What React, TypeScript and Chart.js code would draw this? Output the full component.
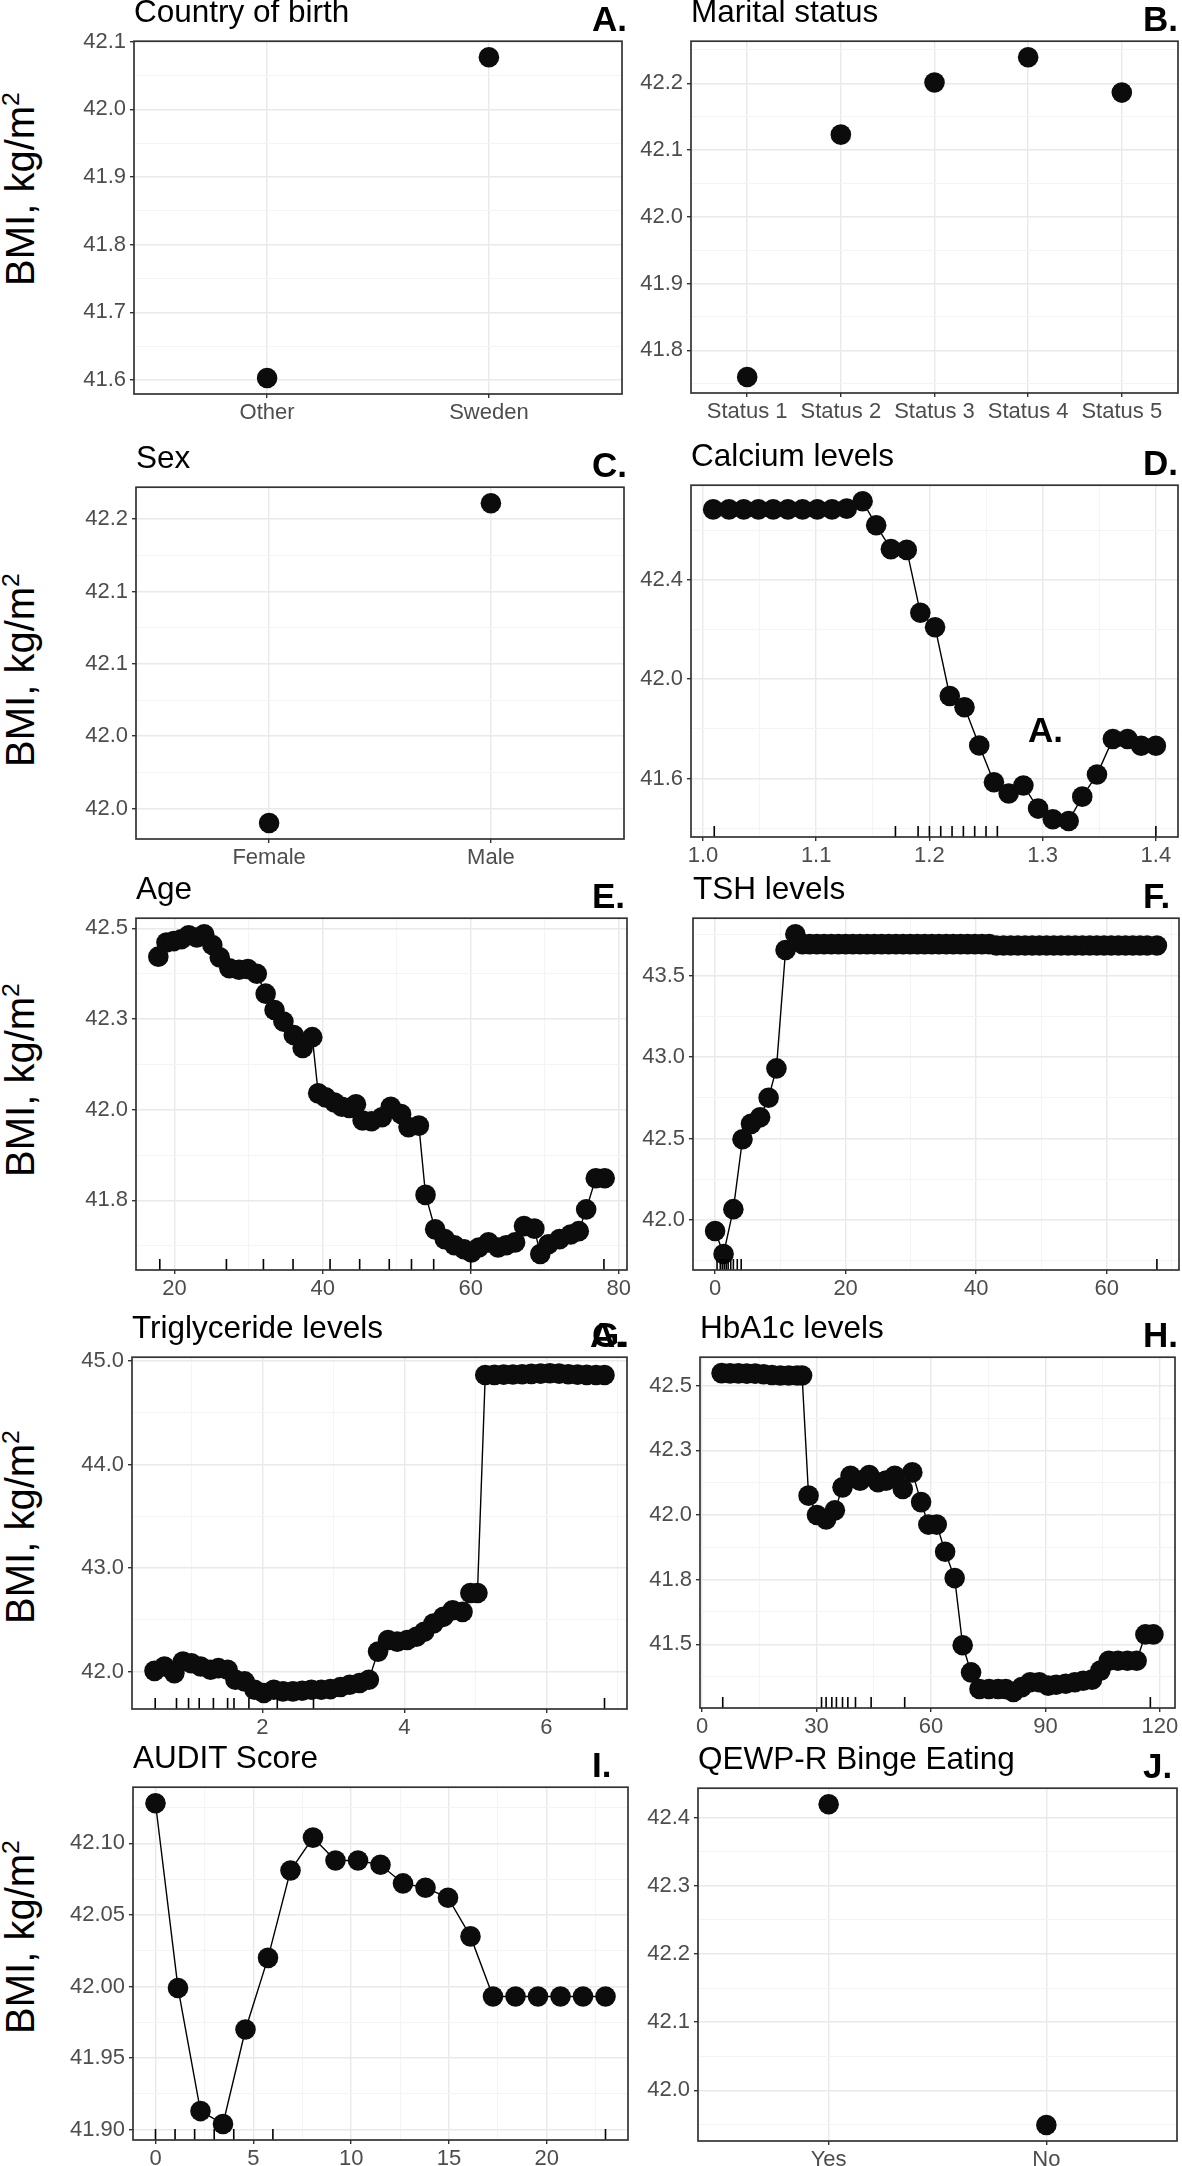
import React, { useEffect, useRef } from "react";
import { Chart, registerables } from "chart.js";

Chart.register(...registerables);

const FONT = "'Liberation Sans', Arial, Helvetica, sans-serif";

// ---------------- A. Country of birth ----------------
const countryCategories = ["Other", "Sweden"];
const countryBmi = [41.603, 42.077];
const countryYTicks = [41.6, 41.7, 41.8, 41.9, 42.0, 42.1];
const countryYLabels = ["41.6", "41.7", "41.8", "41.9", "42.0", "42.1"];
const countryYMinor = [41.65, 41.75, 41.85, 41.95, 42.05];

// ---------------- B. Marital status ----------------
const maritalCategories = ["Status 1", "Status 2", "Status 3", "Status 4", "Status 5"];
const maritalBmi = [41.76, 42.123, 42.201, 42.239, 42.186];
const maritalYTicks = [41.8, 41.9, 42.0, 42.1, 42.2];
const maritalYLabels = ["41.8", "41.9", "42.0", "42.1", "42.2"];
const maritalYMinor = [41.75, 41.85, 41.95, 42.05, 42.15, 42.25];

// ---------------- C. Sex ----------------
const sexCategories = ["Female", "Male"];
const sexBmi = [41.99, 42.211];
const sexYTicks = [42.0, 42.05, 42.1, 42.15, 42.2];
const sexYLabels = ["42.0", "42.0", "42.1", "42.1", "42.2"];
const sexYMinor = [42.025, 42.075, 42.125, 42.175];

// ---------------- D. Calcium levels ----------------
const calciumLevel = [1.009, 1.023, 1.036, 1.049, 1.062, 1.075, 1.088, 1.101, 1.114, 1.127, 1.141, 1.153, 1.166, 1.18, 1.192, 1.205, 1.218, 1.231, 1.244, 1.257, 1.27, 1.283, 1.296, 1.309, 1.323, 1.335, 1.348, 1.362, 1.375, 1.387, 1.4];
const calciumBmi = [42.683, 42.683, 42.683, 42.683, 42.683, 42.683, 42.683, 42.683, 42.683, 42.686, 42.716, 42.619, 42.523, 42.52, 42.267, 42.209, 41.932, 41.887, 41.733, 41.585, 41.54, 41.572, 41.479, 41.436, 41.429, 41.527, 41.616, 41.759, 41.759, 41.732, 41.732];
const calciumRug = [1.01, 1.17, 1.19, 1.2, 1.21, 1.22, 1.23, 1.24, 1.25, 1.26, 1.4];
const calciumXTicks = [1.0, 1.1, 1.2, 1.3, 1.4];
const calciumXLabels = ["1.0", "1.1", "1.2", "1.3", "1.4"];
const calciumXMinor = [1.05, 1.15, 1.25, 1.35];
const calciumYTicks = [41.6, 42.0, 42.4];
const calciumYLabels = ["41.6", "42.0", "42.4"];
const calciumYMinor = [41.4, 41.8, 42.2, 42.6];

// ---------------- E. Age ----------------
const ageYears = [17.8, 18.9, 19.9, 20.9, 21.9, 23.0, 24.0, 25.1, 26.1, 27.4, 28.7, 29.9, 31.1, 32.3, 33.5, 34.7, 36.1, 37.3, 38.6, 39.4, 40.4, 41.6, 42.6, 43.6, 44.5, 45.4, 46.6, 48.0, 49.2, 50.6, 51.6, 53.0, 53.9, 55.2, 56.5, 57.8, 59.1, 60.1, 61.1, 62.4, 63.7, 64.8, 66.0, 67.2, 68.6, 69.4, 70.5, 72.0, 73.5, 74.6, 75.6, 76.9, 78.1];
const ageBmi = [42.422, 42.461, 42.465, 42.47, 42.481, 42.475, 42.484, 42.454, 42.42, 42.39, 42.386, 42.388, 42.375, 42.32, 42.275, 42.243, 42.206, 42.17, 42.2, 42.045, 42.034, 42.02, 42.008, 42.005, 42.015, 41.97, 41.968, 41.979, 42.008, 41.988, 41.952, 41.956, 41.765, 41.67, 41.643, 41.626, 41.615, 41.606, 41.62, 41.634, 41.62, 41.626, 41.634, 41.679, 41.672, 41.602, 41.629, 41.643, 41.656, 41.665, 41.725, 41.811, 41.811];
const ageRug = [18, 27, 32, 36, 41, 45, 49, 52, 55, 60, 78];
const ageXTicks = [20, 40, 60, 80];
const ageXLabels = ["20", "40", "60", "80"];
const ageXMinor = [30, 50, 70];
const ageYTicks = [41.75, 42.0, 42.25, 42.5];
const ageYLabels = ["41.8", "42.0", "42.3", "42.5"];
const ageYMinor = [41.625, 41.875, 42.125, 42.375];

// ---------------- F. TSH levels ----------------
const tshLevel = [0.0, 1.3, 2.8, 4.2, 5.5, 6.9, 8.2, 9.4, 10.8, 12.3, 13.4, 14.5, 15.6, 16.7, 17.8, 18.9, 20.0, 21.1, 22.2, 23.3, 24.4, 25.5, 26.6, 27.7, 28.8, 29.9, 31.0, 32.1, 33.2, 34.3, 35.4, 36.5, 37.6, 38.7, 39.8, 40.9, 42.0, 43.1, 44.2, 45.3, 46.4, 47.5, 48.6, 49.7, 50.8, 51.9, 53.0, 54.1, 55.2, 56.3, 57.4, 58.5, 59.6, 60.7, 61.8, 62.9, 64.0, 65.1, 66.2, 67.7];
const tshBmi = [41.933, 41.792, 42.067, 42.496, 42.59, 42.63, 42.75, 42.93, 43.656, 43.753, 43.692, 43.692, 43.692, 43.692, 43.692, 43.692, 43.692, 43.692, 43.692, 43.692, 43.692, 43.692, 43.692, 43.692, 43.692, 43.692, 43.692, 43.692, 43.692, 43.692, 43.692, 43.692, 43.692, 43.692, 43.692, 43.692, 43.692, 43.684, 43.684, 43.684, 43.684, 43.684, 43.684, 43.684, 43.684, 43.684, 43.684, 43.684, 43.684, 43.684, 43.684, 43.684, 43.684, 43.684, 43.684, 43.684, 43.684, 43.684, 43.684, 43.684];
const tshRug = [0.3, 0.8, 1.1, 1.4, 1.7, 2.0, 2.4, 2.8, 3.4, 4.0, 67.7];
const tshXTicks = [0, 20, 40, 60];
const tshXLabels = ["0", "20", "40", "60"];
const tshXMinor = [10, 30, 50, 70];
const tshYTicks = [42.0, 42.5, 43.0, 43.5];
const tshYLabels = ["42.0", "42.5", "43.0", "43.5"];
const tshYMinor = [41.75, 42.25, 42.75, 43.25, 43.75];

// ---------------- G. Triglyceride levels ----------------
const trigLevel = [0.48, 0.62, 0.76, 0.88, 1.0, 1.13, 1.27, 1.38, 1.51, 1.62, 1.75, 1.89, 2.02, 2.16, 2.29, 2.43, 2.56, 2.69, 2.83, 2.96, 3.1, 3.23, 3.37, 3.5, 3.63, 3.77, 3.9, 4.04, 4.17, 4.28, 4.41, 4.55, 4.68, 4.82, 4.93, 5.03, 5.14, 5.27, 5.4, 5.53, 5.66, 5.79, 5.92, 6.05, 6.18, 6.31, 6.44, 6.57, 6.7, 6.82];
const trigBmi = [42.006, 42.048, 41.984, 42.096, 42.08, 42.048, 42.016, 42.032, 42.016, 41.92, 41.904, 41.824, 41.792, 41.824, 41.808, 41.808, 41.814, 41.824, 41.824, 41.83, 41.85, 41.872, 41.888, 41.92, 42.192, 42.304, 42.288, 42.304, 42.336, 42.384, 42.464, 42.528, 42.592, 42.576, 42.758, 42.758, 44.864, 44.866, 44.868, 44.87, 44.872, 44.875, 44.878, 44.882, 44.878, 44.872, 44.868, 44.866, 44.865, 44.865];
const trigRug = [0.49, 0.79, 0.96, 1.11, 1.31, 1.51, 1.6, 1.81, 2.21, 2.72, 6.82];
const trigXTicks = [2, 4, 6];
const trigXLabels = ["2", "4", "6"];
const trigXMinor = [1, 3, 5, 7];
const trigYTicks = [42, 43, 44, 45];
const trigYLabels = ["42.0", "43.0", "44.0", "45.0"];
const trigYMinor = [42.5, 43.5, 44.5];

// ---------------- H. HbA1c levels ----------------
const hba1cLevel = [5.1, 7.3, 9.5, 11.7, 13.9, 16.1, 18.3, 20.5, 22.7, 24.9, 26.2, 27.9, 30.1, 32.5, 34.8, 36.8, 38.9, 41.4, 43.8, 46.1, 48.2, 50.5, 52.6, 55.1, 57.4, 59.3, 61.5, 63.7, 66.2, 68.3, 70.5, 72.7, 75.2, 77.6, 79.6, 81.6, 83.8, 86.0, 88.4, 90.7, 92.8, 95.3, 97.7, 99.9, 102.2, 104.4, 106.6, 109.0, 111.5, 113.9, 116.2, 118.3];
const hba1cBmi = [42.549, 42.548, 42.548, 42.547, 42.547, 42.545, 42.542, 42.54, 42.54, 42.54, 42.54, 42.075, 42.0, 41.983, 42.018, 42.107, 42.152, 42.133, 42.155, 42.127, 42.133, 42.152, 42.101, 42.165, 42.05, 41.963, 41.963, 41.858, 41.756, 41.496, 41.391, 41.327, 41.327, 41.327, 41.327, 41.315, 41.334, 41.353, 41.353, 41.34, 41.343, 41.347, 41.353, 41.359, 41.363, 41.398, 41.436, 41.436, 41.436, 41.436, 41.538, 41.538];
const hba1cRug = [5.4, 31.3, 32.5, 34.0, 35.2, 36.8, 38.2, 40.2, 44.3, 53.1, 117.5];
const hba1cXTicks = [0, 30, 60, 90, 120];
const hba1cXLabels = ["0", "30", "60", "90", "120"];
const hba1cXMinor = [15, 45, 75, 105];
const hba1cYTicks = [41.5, 41.75, 42.0, 42.25, 42.5];
const hba1cYLabels = ["41.5", "41.8", "42.0", "42.3", "42.5"];
const hba1cYMinor = [41.375, 41.625, 41.875, 42.125, 42.375];

// ---------------- I. AUDIT Score ----------------
const auditScore = [0, 1.15, 2.3, 3.45, 4.6, 5.75, 6.9, 8.05, 9.2, 10.35, 11.5, 12.65, 13.8, 14.95, 16.1, 17.25, 18.4, 19.55, 20.7, 21.85, 23.0];
const auditBmi = [42.128, 41.999, 41.913, 41.904, 41.97, 42.02, 42.081, 42.104, 42.088, 42.088, 42.085, 42.072, 42.069, 42.062, 42.035, 41.993, 41.993, 41.993, 41.993, 41.993, 41.993];
const auditRug = [0, 1, 2, 3, 4, 6, 23];
const auditXTicks = [0, 5, 10, 15, 20];
const auditXLabels = ["0", "5", "10", "15", "20"];
const auditXMinor = [2.5, 7.5, 12.5, 17.5, 22.5];
const auditYTicks = [41.9, 41.95, 42.0, 42.05, 42.1];
const auditYLabels = ["41.90", "41.95", "42.00", "42.05", "42.10"];
const auditYMinor = [41.925, 41.975, 42.025, 42.075, 42.125];

// ---------------- J. QEWP-R Binge Eating ----------------
const bingeCategories = ["Yes", "No"];
const bingeBmi = [42.42, 41.949];
const bingeYTicks = [42.0, 42.1, 42.2, 42.3, 42.4];
const bingeYLabels = ["42.0", "42.1", "42.2", "42.3", "42.4"];
const bingeYMinor = [41.95, 42.05, 42.15, 42.25, 42.35];

// ---------------- layout constants ----------------
const YW = 90; // y-axis box width
const XH = 45; // x-axis box height
const PT = 16; // top padding of canvas
const PR = 32; // right padding of canvas
const MAJOR = "#e9e9e9";
const MINOR = "#f4f4f4";
const TITLE_SIZE = 31.5;
const LETTER_SIZE = 35;
const TICK_SIZE = 22;

type Spec = {
  title: string;
  letter: string;
  rect: [number, number, number, number];
  x: number[];
  y: number[];
  line: boolean;
  xTicks: number[];
  xLabels: string[];
  xMinor: number[];
  yTicks: number[];
  yLabels: string[];
  yMinor: number[];
  rug?: number[];
  xRange?: [number, number];
};

const idx = (arr: string[]) => arr.map((_, i) => i + 1);

const SPECS: Spec[] = [
  { title: "Country of birth", letter: "A.", rect: [134, 40, 622, 394], x: idx(countryCategories), y: countryBmi, line: false,
    xTicks: idx(countryCategories), xLabels: countryCategories, xMinor: [], yTicks: countryYTicks, yLabels: countryYLabels, yMinor: countryYMinor,
    xRange: [0.4, countryCategories.length + 0.6] },
  { title: "Marital status", letter: "B.", rect: [691, 40, 1178, 393], x: idx(maritalCategories), y: maritalBmi, line: false,
    xTicks: idx(maritalCategories), xLabels: maritalCategories, xMinor: [], yTicks: maritalYTicks, yLabels: maritalYLabels, yMinor: maritalYMinor,
    xRange: [0.4, maritalCategories.length + 0.6] },
  { title: "Sex", letter: "C.", rect: [136, 486, 624, 839], x: idx(sexCategories), y: sexBmi, line: false,
    xTicks: idx(sexCategories), xLabels: sexCategories, xMinor: [], yTicks: sexYTicks, yLabels: sexYLabels, yMinor: sexYMinor,
    xRange: [0.4, sexCategories.length + 0.6] },
  { title: "Calcium levels", letter: "D.", rect: [691, 484, 1178, 837], x: calciumLevel, y: calciumBmi, line: true,
    xTicks: calciumXTicks, xLabels: calciumXLabels, xMinor: calciumXMinor, yTicks: calciumYTicks, yLabels: calciumYLabels, yMinor: calciumYMinor, rug: calciumRug },
  { title: "Age", letter: "E.", rect: [136, 917, 627, 1270], x: ageYears, y: ageBmi, line: true,
    xTicks: ageXTicks, xLabels: ageXLabels, xMinor: ageXMinor, yTicks: ageYTicks, yLabels: ageYLabels, yMinor: ageYMinor, rug: ageRug },
  { title: "TSH levels", letter: "F.", rect: [693, 917, 1179, 1270], x: tshLevel, y: tshBmi, line: true,
    xTicks: tshXTicks, xLabels: tshXLabels, xMinor: tshXMinor, yTicks: tshYTicks, yLabels: tshYLabels, yMinor: tshYMinor, rug: tshRug },
  { title: "Triglyceride levels", letter: "G.", rect: [132, 1356, 627, 1709], x: trigLevel, y: trigBmi, line: true,
    xTicks: trigXTicks, xLabels: trigXLabels, xMinor: trigXMinor, yTicks: trigYTicks, yLabels: trigYLabels, yMinor: trigYMinor, rug: trigRug },
  { title: "HbA1c levels", letter: "H.", rect: [700, 1356, 1175, 1708], x: hba1cLevel, y: hba1cBmi, line: true,
    xTicks: hba1cXTicks, xLabels: hba1cXLabels, xMinor: hba1cXMinor, yTicks: hba1cYTicks, yLabels: hba1cYLabels, yMinor: hba1cYMinor, rug: hba1cRug },
  { title: "AUDIT Score", letter: "I.", rect: [133, 1786, 628, 2140], x: auditScore, y: auditBmi, line: true,
    xTicks: auditXTicks, xLabels: auditXLabels, xMinor: auditXMinor, yTicks: auditYTicks, yLabels: auditYLabels, yMinor: auditYMinor, rug: auditRug },
  { title: "QEWP-R Binge Eating", letter: "J.", rect: [698, 1787, 1177, 2141], x: idx(bingeCategories), y: bingeBmi, line: false,
    xTicks: idx(bingeCategories), xLabels: bingeCategories, xMinor: [], yTicks: bingeYTicks, yLabels: bingeYLabels, yMinor: bingeYMinor,
    xRange: [0.4, bingeCategories.length + 0.6] },
];

const Y_TITLE_CENTERS = [189, 670, 1080, 1527, 1937];

function expand(v: number[]): [number, number] {
  const mn = Math.min(...v);
  const mx = Math.max(...v);
  const r = mx - mn;
  return [mn - 0.05 * r, mx + 0.05 * r];
}

function lab(vals: number[], labels: string[], v: number) {
  const i = vals.findIndex((t) => Math.abs(t - v) < 1e-9);
  return i >= 0 ? labels[i] : "";
}

function axisOpts(vals: number[], labels: string[], minor: number[], min: number, max: number, isX: boolean) {
  return {
    type: "linear",
    position: isX ? "bottom" : "left",
    min,
    max,
    afterBuildTicks: (sc: any) => {
      sc.ticks = [
        ...vals.map((v) => ({ value: v, minor: false })),
        ...minor.map((v) => ({ value: v, minor: true })),
      ]
        .filter((tk) => tk.value >= min - 1e-9 && tk.value <= max + 1e-9)
        .sort((a, b) => a.value - b.value);
    },
    afterFit: (sc: any) => {
      if (isX) sc.height = XH;
      else sc.width = YW;
    },
    ticks: {
      autoSkip: false,
      maxRotation: 0,
      minRotation: 0,
      padding: isX ? 2 : 4,
      color: "#4d4d4d",
      font: { size: TICK_SIZE, family: FONT },
      callback: (v: number, i: number, ticks: any[]) => (ticks[i] && ticks[i].minor ? "" : lab(vals, labels, v)),
    },
    grid: {
      color: (c: any) => (c.tick && c.tick.minor ? MINOR : MAJOR),
      lineWidth: (c: any) => (c.tick && c.tick.minor ? 1 : 1.4),
      tickColor: (c: any) => (c.tick && c.tick.minor ? "rgba(0,0,0,0)" : "#333333"),
      tickLength: 4,
      tickWidth: 1.4,
      drawTicks: true,
    },
    border: { display: false },
  };
}

const borderPlugin = {
  id: "panelBorder",
  afterDatasetsDraw(chart: any) {
    const { ctx, chartArea: a } = chart;
    ctx.save();
    ctx.strokeStyle = "#333333";
    ctx.lineWidth = 1.7;
    ctx.strokeRect(a.left, a.top, a.right - a.left, a.bottom - a.top);
    ctx.restore();
  },
};

function Panel({ s }: { s: Spec }) {
  const ref = useRef<HTMLCanvasElement>(null);
  const [l, t, r, b] = s.rect;
  const cw = YW + (r - l) + PR;
  const ch = PT + (b - t) + XH;
  useEffect(() => {
    const canvas = ref.current;
    if (!canvas) return;
    const [xmin, xmax] = s.xRange ?? expand(s.x);
    const [ymin, ymax] = expand(s.y);
    const datasets: any[] = [];
    if (s.rug) {
      datasets.push({
        data: s.rug.map((x) => ({ x, y: ymin })),
        showLine: false,
        pointStyle: "line",
        pointRotation: 90,
        pointRadius: 11,
        pointHoverRadius: 11,
        pointBorderColor: "#000000",
        pointBorderWidth: 1.6,
        clip: 0,
      });
    }
    datasets.push({
      data: s.x.map((x, i) => ({ x, y: s.y[i] })),
      showLine: s.line,
      borderColor: "#000000",
      borderWidth: 1.4,
      pointRadius: 10.3,
      pointHoverRadius: 10.3,
      pointBackgroundColor: "#0c0c0c",
      pointBorderWidth: 0,
      clip: 0,
    });
    const chart = new Chart(canvas, {
      type: "scatter",
      data: { datasets },
      options: {
        responsive: false,
        animation: false,
        devicePixelRatio: 1,
        events: [],
        layout: { padding: { top: PT, right: PR, bottom: 0, left: 0 }, autoPadding: false },
        plugins: { legend: { display: false }, tooltip: { enabled: false }, title: { display: false } },
        scales: {
          x: axisOpts(s.xTicks, s.xLabels, s.xMinor, xmin, xmax, true),
          y: axisOpts(s.yTicks, s.yLabels, s.yMinor, ymin, ymax, false),
        },
      } as any,
      plugins: [borderPlugin],
    });
    return () => chart.destroy();
  }, []);

  const col1 = l < 400;
  return (
    <>
      <canvas
        ref={ref}
        width={cw}
        height={ch}
        style={{ position: "absolute", left: l - YW, top: t - PT, width: cw, height: ch }}
      />
      <div
        style={{ position: "absolute", left: l, top: t - 17 - 0.8465 * TITLE_SIZE, fontSize: TITLE_SIZE, lineHeight: 1, whiteSpace: "nowrap", color: "#000" }}
      >
        {s.title}
      </div>
      <div
        style={{ position: "absolute", left: col1 ? 592 : 1143, top: t - 9 - 0.8465 * LETTER_SIZE, fontSize: LETTER_SIZE, fontWeight: "bold", lineHeight: 1, whiteSpace: "nowrap", color: "#000" }}
      >
        {s.letter}
      </div>
    </>
  );
}

export default function App() {
  return (
    <div
      style={{ position: "absolute", left: 0, top: 0, width: 1182, height: 2166, background: "#ffffff", fontFamily: FONT, overflow: "hidden" }}
    >
      {SPECS.map((s) => (
        <Panel key={s.letter} s={s} />
      ))}
      {Y_TITLE_CENTERS.map((cy, i) => (
        <div
          key={i}
          style={{
            position: "absolute",
            left: 20,
            top: cy,
            transform: "translate(-50%, -50%) rotate(-90deg)",
            fontSize: 40,
            lineHeight: 1,
            whiteSpace: "nowrap",
            color: "#000",
          }}
        >
          BMI, kg/m<span style={{ fontSize: "0.62em", position: "relative", top: "-0.6em" }}>2</span>
        </div>
      ))}
      {/* stray overlaid panel labels present in the original figure */}
      <div style={{ position: "absolute", left: 1028, top: 742 - 0.8465 * LETTER_SIZE, fontSize: LETTER_SIZE, fontWeight: "bold", lineHeight: 1, color: "#000" }}>A.</div>
      <div style={{ position: "absolute", left: 590, top: 1356 - 9 - 0.8465 * LETTER_SIZE, fontSize: LETTER_SIZE, fontWeight: "bold", lineHeight: 1, color: "#000" }}>A.</div>
    </div>
  );
}
